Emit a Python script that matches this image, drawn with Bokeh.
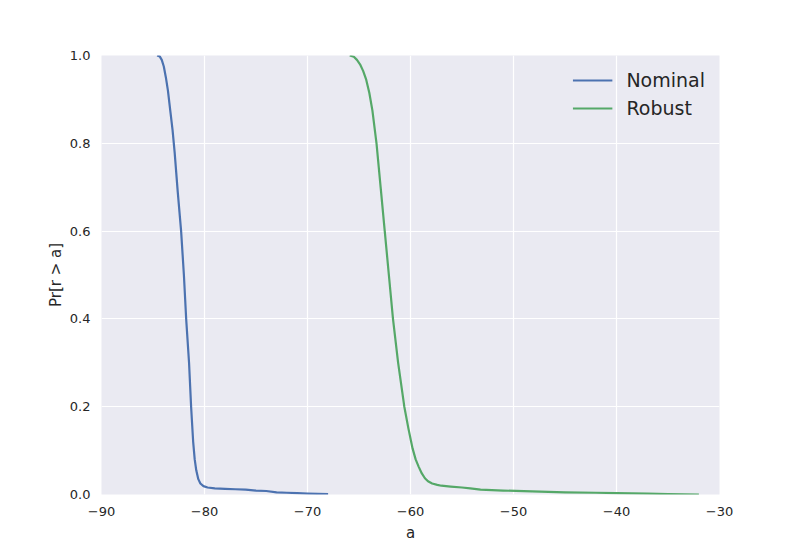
from bokeh.plotting import figure
from bokeh.models import FixedTicker, CustomJSTickFormatter, Legend, LegendItem, Range1d
from bokeh.embed import file_html
from bokeh.resources import INLINE

# Nominal survival curve: Pr[r > a]
nominal_a = [-84.6, -84.35, -84.15, -83.95, -83.75, -83.55, -83.3, -83.1, -82.9, -82.6,
             -82.27, -82.0, -81.78, -81.5, -81.3, -81.1, -80.95, -80.8, -80.6, -80.4,
             -80.1, -79.7, -79.0, -78.0, -77.0, -76.0, -75.0, -74.0, -73.0, -72.0,
             -71.0, -70.0, -69.0, -68.0]
nominal_p = [1.0, 0.998, 0.99, 0.975, 0.95, 0.92, 0.87, 0.83, 0.78, 0.69,
             0.6, 0.5, 0.4, 0.3, 0.2, 0.12, 0.08, 0.055, 0.035, 0.025,
             0.019, 0.016, 0.014, 0.013, 0.012, 0.011, 0.009, 0.008, 0.005, 0.004,
             0.003, 0.002, 0.0015, 0.001]

# Robust survival curve
robust_a = [-65.9, -65.5, -65.2, -64.9, -64.6, -64.3, -64.0, -63.7, -63.3, -62.9,
            -62.5, -62.1, -61.7, -61.2, -60.6, -60.2, -59.8, -59.5, -59.2, -58.9,
            -58.6, -58.3, -57.9, -57.4, -57.0, -56.1, -55.0, -54.2, -53.2, -51.0,
            -49.0, -45.0, -42.0, -40.0, -37.0, -35.0, -32.0]
robust_p = [1.0, 0.997, 0.99, 0.98, 0.965, 0.945, 0.915, 0.875, 0.8, 0.7,
            0.6, 0.5, 0.4, 0.3, 0.2, 0.15, 0.105, 0.08, 0.063, 0.048,
            0.037, 0.03, 0.025, 0.022, 0.02, 0.018, 0.016, 0.014, 0.011, 0.009,
            0.0075, 0.005, 0.004, 0.003, 0.002, 0.001, 0.0]

x_ticks = [-90, -80, -70, -60, -50, -40, -30]
y_ticks = [0.0, 0.2, 0.4, 0.6, 0.8, 1.0]

p = figure(width=800, height=550, output_backend="svg", toolbar_location=None,
           x_range=Range1d(-90, -30), y_range=Range1d(0, 1),
           min_border_left=101, min_border_right=81, min_border_top=55, min_border_bottom=56)

p.background_fill_color = "#EAEAF2"
p.border_fill_color = "white"
p.outline_line_color = None

for ax in (p.xaxis[0], p.yaxis[0]):
    ax.axis_line_color = None
    ax.major_tick_line_color = None
    ax.minor_tick_line_color = None
    ax.major_label_text_font = "DejaVu Sans"
    ax.major_label_text_font_size = "13px"
    ax.major_label_text_color = "#262626"
    ax.axis_label_text_font = "DejaVu Sans"
    ax.axis_label_text_font_size = "15px"
    ax.axis_label_text_font_style = "normal"
    ax.axis_label_text_color = "#262626"

p.xaxis.ticker = FixedTicker(ticks=x_ticks)
p.yaxis.ticker = FixedTicker(ticks=y_ticks)
p.xaxis.formatter = CustomJSTickFormatter(code="return (tick < 0 ? '\u2212' : '') + Math.abs(tick).toFixed(0);")
p.yaxis.formatter = CustomJSTickFormatter(code="return tick.toFixed(1);")
p.xaxis.major_label_standoff = 6
p.yaxis.major_label_standoff = 5
p.xaxis.axis_label = "a"
p.yaxis.axis_label = "Pr[r > a]"
p.xaxis.axis_label_standoff = 5
p.yaxis.axis_label_standoff = 2

p.xgrid.grid_line_color = "white"
p.ygrid.grid_line_color = "white"
p.xgrid.grid_line_width = 1.2
p.ygrid.grid_line_width = 1.2

r1 = p.line(nominal_a, nominal_p, line_color="#4C72B0", line_width=2.2, line_join="round")
r2 = p.line(robust_a, robust_p, line_color="#55A868", line_width=2.2, line_join="round")

legend = Legend(items=[LegendItem(label="Nominal", renderers=[r1]),
                       LegendItem(label="Robust", renderers=[r2])],
                location="top_right")
legend.background_fill_alpha = 0
legend.border_line_color = None
legend.label_text_font = "DejaVu Sans"
legend.label_text_font_size = "19px"
legend.label_text_color = "#262626"
legend.glyph_width = 40
legend.glyph_height = 22
legend.label_height = 22
legend.spacing = 6
legend.margin = 14
legend.padding = 8
legend.label_standoff = 14
p.add_layout(legend, "center")

open("out.html", "w").write(file_html(p, INLINE))
